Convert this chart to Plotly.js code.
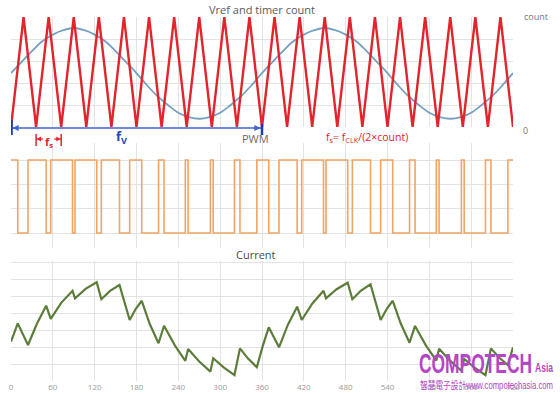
<!DOCTYPE html>
<html>
<head>
<meta charset="utf-8">
<script src="https://cdn.plot.ly/plotly-3.0.1.min.js"></script>
<style>
  html, body { margin: 0; padding: 0; background: #fff; }
  #wrap { position: relative; width: 560px; height: 394px; }
  #chart { width: 560px; height: 394px; }
  #wm { position: absolute; left: 0; top: 0; pointer-events: none; }
</style>
</head>
<body>
<div id="wrap">
  <div id="chart"></div>
  <svg id="wm" width="560" height="394">
    <text x="419" y="373" font-family="Liberation Sans, Arial, sans-serif" font-weight="bold" font-size="28" textLength="113" lengthAdjust="spacingAndGlyphs" fill="#b446c6">COMPOTECH</text>
    <text x="535" y="372" font-family="Liberation Sans, Arial, sans-serif" font-weight="bold" font-size="12" textLength="18" lengthAdjust="spacingAndGlyphs" fill="#b446c6">Asia</text>
    <text x="420" y="389" font-family="Liberation Sans, 'Noto Sans CJK TC', sans-serif" font-size="10" textLength="133" lengthAdjust="spacingAndGlyphs" fill="#b446c6">智慧電子設計www.compotechasia.com</text>
  </svg>
</div>
<script>
// ---- data ----
const xTicks = [0, 60, 120, 180, 240, 300, 360, 420, 480, 540, 600, 660, 720];

// timer count (triangle carrier), normalised 0 .. count(=1)
const countX = [0, 18, 36, 54, 72, 90, 108, 126, 144, 162, 180, 198, 216, 234, 252, 270, 288, 306, 324, 342, 360,
                378, 396, 414, 432, 450, 468, 486, 504, 522, 540, 558, 576, 594, 612, 630, 648, 666, 684, 702, 720];
const countY = [0, 1, 0, 1, 0, 1, 0, 1, 0, 1, 0, 1, 0, 1, 0, 1, 0, 1, 0, 1, 0,
                1, 0, 1, 0, 1, 0, 1, 0, 1, 0, 1, 0, 1, 0, 1, 0, 1, 0, 1, 0];

// Vref (sampled every 15)
const vrefX = [0, 15, 30, 45, 60, 75, 90, 105, 120, 135, 150, 165, 180, 195, 210, 225, 240, 255, 270, 285, 300, 315, 330, 345, 360,
               375, 390, 405, 420, 435, 450, 465, 480, 495, 510, 525, 540, 555, 570, 585, 600, 615, 630, 645, 660, 675, 690, 705, 720];
const vrefY = [0.49, 0.59, 0.69, 0.78, 0.84, 0.88, 0.90, 0.88, 0.84, 0.78, 0.69, 0.59, 0.49, 0.38, 0.28, 0.20, 0.13, 0.09, 0.075, 0.09, 0.13, 0.20, 0.28, 0.38, 0.49,
               0.59, 0.69, 0.78, 0.84, 0.88, 0.90, 0.88, 0.84, 0.78, 0.69, 0.59, 0.49, 0.38, 0.28, 0.20, 0.13, 0.09, 0.075, 0.09, 0.13, 0.20, 0.28, 0.38, 0.49];

// PWM edges (time, level after edge)
const pwmX = [0, 9.7, 24.4, 50.4, 57, 88.2, 91.8, 122.9, 129.6, 155.6, 170.2, 187.5, 211.6, 219.5, 250, 254, 286, 290, 320.5, 328.4, 352.6,
              369.7, 384.4, 410.4, 417, 448.2, 451.8, 482.9, 489.6, 515.6, 530.2, 547.5, 571.6, 579.5, 610, 614, 646, 650, 680.5, 688.4, 712.6, 720];
const pwmY = [1, 0, 1, 0, 1, 0, 1, 0, 1, 0, 1, 0, 1, 0, 1, 0, 1, 0, 1, 0, 1,
              0, 1, 0, 1, 0, 1, 0, 1, 0, 1, 0, 1, 0, 1, 0, 1, 0, 1, 0, 1, 1];

// Current
const curX = [0, 9.7, 24.4, 37, 50.4, 57, 72, 88.2, 91.8, 107, 122.9, 129.6, 142, 155.6, 170.2, 179, 187.5, 199, 211.6, 219.5, 235,
              250, 254, 270, 286, 290, 305, 320.5, 328.4, 340, 352.6, 361, 369.7, 384.4, 397, 410.4, 417, 432, 448.2, 451.8, 467,
              482.9, 489.6, 502, 515.6, 530.2, 539, 547.5, 559, 571.6, 579.5, 595, 610, 614, 630, 646, 650, 665, 680.5, 688.4, 700, 712.6, 720];
const curY = [2.31, 3.39, 2.12, 3.35, 4.43, 3.65, 4.6, 5.31, 4.86, 5.42, 5.81, 4.81, 5.3, 5.65, 3.59, 4.25, 4.72, 3.35, 2.22, 3.25, 2.1,
              1.19, 1.88, 1.15, 0.55, 1.34, 0.8, 0.35, 1.92, 1.32, 0.81, 2.05, 3.16, 1.98, 3.3, 4.37, 3.59, 4.55, 5.31, 4.86, 5.4,
              5.78, 4.81, 5.32, 5.69, 3.59, 4.25, 4.72, 3.38, 2.25, 3.24, 2.1, 1.2, 1.9, 1.18, 0.6, 1.3, 0.78, 0.35, 1.92, 1.38, 0.94, 1.98];

// ---- plot ----
const H = 394;
const py = p => 1 - p / H;   // pixel row -> paper y

const traces = [
  { x: vrefX, y: vrefY, xaxis: 'x', yaxis: 'y', mode: 'lines', line: { color: '#74a0c2', width: 1.8, shape: 'spline' }, hoverinfo: 'skip' },
  { x: countX, y: countY, xaxis: 'x', yaxis: 'y', mode: 'lines', line: { color: '#e2242c', width: 2.4 }, hoverinfo: 'skip' },
  { x: pwmX, y: pwmY, xaxis: 'x2', yaxis: 'y2', mode: 'lines', line: { color: '#f2a463', width: 1.6, shape: 'hv' }, hoverinfo: 'skip' },
  { x: curX, y: curY, xaxis: 'x3', yaxis: 'y3', mode: 'lines', line: { color: '#5c7d3a', width: 2.2 }, hoverinfo: 'skip' }
];

const gx = { range: [0, 720], tickmode: 'array', tickvals: xTicks, ticktext: xTicks.map(String),
             showgrid: true, gridcolor: '#e3e3e3', gridwidth: 1, zeroline: false, showline: false, ticks: '' };

function ann(text, xref, x, yPix, size, color, extra) {
  return Object.assign({ text: text, xref: xref, yref: 'paper', x: x, y: py(yPix), xanchor: 'center', yanchor: 'middle',
                         showarrow: false, font: { size: size, color: color } }, extra || {});
}

const yA = py(128), yB = py(139);
const layout = {
  width: 560, height: 394,
  margin: { l: 11, r: 47, t: 0, b: 0 },
  paper_bgcolor: '#ffffff', plot_bgcolor: '#ffffff',
  showlegend: false,
  font: { family: 'Open Sans, sans-serif', color: '#666' },
  xaxis:  Object.assign({}, gx, { anchor: 'y',  showticklabels: false }),
  xaxis2: Object.assign({}, gx, { anchor: 'y2', showticklabels: false }),
  xaxis3: Object.assign({}, gx, { anchor: 'y3', showticklabels: true, tickfont: { size: 8, color: '#999' } }),
  yaxis:  { domain: [py(127), py(17)], range: [0, 1], dtick: 0.2, showticklabels: false, gridcolor: '#e3e3e3', zeroline: false },
  yaxis2: { domain: [py(248), py(143)], range: [-0.205, 1.233], tick0: 0, dtick: 1/3, showticklabels: false, gridcolor: '#e3e3e3', zeroline: false },
  yaxis3: { domain: [py(381), py(261)], range: [0, 7.06], dtick: 1, showticklabels: false, gridcolor: '#e3e3e3', zeroline: false },
  shapes: [
    // fV arrow line + end ticks + heads
    { type: 'line', xref: 'x', yref: 'paper', x0: 0, x1: 360, y0: yA, y1: yA, line: { color: '#3f63cf', width: 1.4 } },
    { type: 'line', xref: 'x', yref: 'paper', x0: 0.8, x1: 0.8, y0: py(120), y1: py(135), line: { color: '#1c3bb8', width: 2.5 } },
    { type: 'line', xref: 'x', yref: 'paper', x0: 360, x1: 360, y0: py(124), y1: py(135), line: { color: '#1c3bb8', width: 2.5 } },
    { type: 'path', xref: 'x', yref: 'paper', path: `M 2 ${yA} L 11 ${py(125)} L 11 ${py(131)} Z`, fillcolor: '#3f63cf', line: { width: 0 } },
    { type: 'path', xref: 'x', yref: 'paper', path: `M 358 ${yA} L 349 ${py(125)} L 349 ${py(131)} Z`, fillcolor: '#3f63cf', line: { width: 0 } },
    // fs bracket ticks + heads
    { type: 'line', xref: 'x', yref: 'paper', x0: 36, x1: 36, y0: py(134), y1: py(146), line: { color: '#e2242c', width: 1.5 } },
    { type: 'line', xref: 'x', yref: 'paper', x0: 72, x1: 72, y0: py(134), y1: py(146), line: { color: '#e2242c', width: 1.5 } },
    { type: 'line', xref: 'x', yref: 'paper', x0: 36, x1: 46, y0: yB, y1: yB, line: { color: '#e2242c', width: 1.2 } },
    { type: 'line', xref: 'x', yref: 'paper', x0: 62, x1: 72, y0: yB, y1: yB, line: { color: '#e2242c', width: 1.2 } },
    { type: 'path', xref: 'x', yref: 'paper', path: `M 37 ${yB} L 43 ${py(136.5)} L 43 ${py(141.5)} Z`, fillcolor: '#e2242c', line: { width: 0 } },
    { type: 'path', xref: 'x', yref: 'paper', path: `M 71 ${yB} L 65 ${py(136.5)} L 65 ${py(141.5)} Z`, fillcolor: '#e2242c', line: { width: 0 } }
  ],
  annotations: [
    ann('Vref and timer count', 'paper', 0.5, 9, 11, '#5a5a5a'),
    ann('PWM', 'paper', 0.488, 138, 11, '#6a6a6a'),
    ann('Current', 'paper', 0.488, 254, 11, '#4a4a4a'),
    ann('count', 'paper', 1.017, 17, 9, '#777', { xanchor: 'left' }),
    ann('0', 'paper', 1.025, 130, 9, '#777'),
    ann('<b>f<sub>V</sub></b>', 'x', 159, 137, 13, '#2346c2'),
    ann('<b>f<sub>s</sub></b>', 'x', 54, 142, 11, '#e2242c'),
    ann('f<sub>s</sub>= f<sub>CLK</sub>/(2×count)', 'x', 510, 137, 10.5, '#e2242c')
  ]
};

Plotly.newPlot('chart', traces, layout, { staticPlot: true, displayModeBar: false });
</script>
</body>
</html>
